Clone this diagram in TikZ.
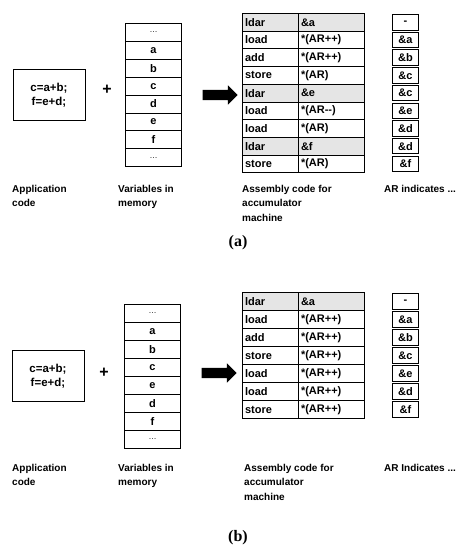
\documentclass[tikz,border=0pt]{standalone}
\usepackage{fontspec}
\setmainfont{Liberation Sans}
\newfontfamily\capfont{Liberation Serif}
\usetikzlibrary{shapes.arrows}
\begin{document}
\begin{tikzpicture}[x=1pt,y=-1pt,
  box/.style={draw, line width=1pt, inner sep=0pt},
  celltxt/.style={font=\fontsize{11}{12}\selectfont\bfseries},
  opcell/.style={box, celltxt, anchor=north west, minimum height=17.7pt, text width=51pt, inner xsep=2.5pt, align=left},
  argcell/.style={box, celltxt, anchor=north west, minimum height=17.7pt, text width=61pt, inner xsep=2.5pt, align=left},
  arcell/.style={box, celltxt, anchor=north west, minimum height=15.5pt, minimum width=26pt},
  memcell/.style={box, celltxt, anchor=north west, minimum height=17.9pt, minimum width=56pt},
  appbox/.style={box, minimum width=72pt, minimum height=51pt, align=center, font=\fontsize{11.5}{14}\selectfont\bfseries},
  lbl/.style={anchor=north west, inner sep=0pt, align=left, font=\fontsize{10}{14.5}\selectfont\bfseries},
  plus/.style={font=\fontsize{16}{16}\selectfont\bfseries},
  bigarrow/.style={single arrow, fill=black, draw=none, minimum width=19pt, minimum height=35pt, single arrow head extend=4.5pt, inner sep=0pt},
  figcap/.style={font=\capfont\fontsize{16}{18}\selectfont\bfseries}
]
\useasboundingbox (0,0) rectangle (466,554);

% ---------------- panel (a) ----------------
\node[appbox] (appA) at (49,95) {c=a+b;\\f=e+d;};
\node[plus] (plusA) at (107,90) {+};
\foreach \i/\t in {1/{\textnormal{\footnotesize\dots}},2/a,3/b,4/c,5/d,6/e,7/f,8/{\textnormal{\footnotesize\dots}}} {
  \pgfmathsetmacro\yy{23+(\i-1)*17.9}
  \node[memcell] (memA\i) at (125,\yy) {\t};
}
\node[bigarrow] (arrA) at (217.5,95) {\rule{0pt}{10pt}};
\foreach \i/\op/\arg/\ar/\fc in {1/ldar/\&a/-/gray!20,2/load/*(AR++)/\&a/white,3/add/*(AR++)/\&b/white,4/store/*(AR)/\&c/white,5/ldar/\&e/\&c/gray!20,6/load/*(AR-{}-)/\&e/white,7/load/*(AR)/\&d/white,8/ldar/\&f/\&d/gray!20,9/store/*(AR)/\&f/white} {
  \pgfmathsetmacro\yy{13+(\i-1)*17.7}
  \node[opcell, fill=\fc] (opA\i) at (242,\yy) {\op};
  \node[argcell, fill=\fc] (argA\i) at (298,\yy) {\arg};
  \pgfmathsetmacro\ay{13+(\i-1)*17.7+1}
  \node[arcell] (arA\i) at (392,\ay) {\ar};
}
\node[lbl] (lAppA) at (12,185) {Application\\code};
\node[lbl] (lVarA) at (118,185) {Variables in\\memory};
\node[lbl] (lAsmA) at (242,185) {Assembly code for\\accumulator\\machine};
\node[lbl] (lArA) at (384,185) {AR indicates ...};
\node[figcap] (capA) at (238,243) {(a)};

% ---------------- panel (b) ----------------
\node[appbox] (appB) at (48,376) {c=a+b;\\f=e+d;};
\node[plus] (plusB) at (104,373) {+};
\foreach \i/\t in {1/{\textnormal{\footnotesize\dots}},2/a,3/b,4/c,5/e,6/d,7/f,8/{\textnormal{\footnotesize\dots}}} {
  \pgfmathsetmacro\yy{304+(\i-1)*18}
  \node[memcell] (memB\i) at (124,\yy) {\t};
}
\node[bigarrow] (arrB) at (216.5,373) {\rule{0pt}{10pt}};
\foreach \i/\op/\arg/\ar/\fc in {1/ldar/\&a/-/gray!20,2/load/*(AR++)/\&a/white,3/add/*(AR++)/\&b/white,4/store/*(AR++)/\&c/white,5/load/*(AR++)/\&e/white,6/load/*(AR++)/\&d/white,7/store/*(AR++)/\&f/white} {
  \pgfmathsetmacro\yy{292+(\i-1)*18}
  \node[opcell, minimum height=18pt, fill=\fc] (opB\i) at (242,\yy) {\op};
  \node[argcell, minimum height=18pt, fill=\fc] (argB\i) at (298,\yy) {\arg};
  \pgfmathsetmacro\ay{292+(\i-1)*18+1}
  \node[arcell] (arB\i) at (392,\ay) {\ar};
}
\node[lbl] (lAppB) at (12,464) {Application\\code};
\node[lbl] (lVarB) at (118,464) {Variables in\\memory};
\node[lbl] (lAsmB) at (244,464) {Assembly code for\\accumulator\\machine};
\node[lbl] (lArB) at (384,464) {AR Indicates ...};
\node[figcap] (capB) at (238,538) {(b)};
\end{tikzpicture}
\end{document}
